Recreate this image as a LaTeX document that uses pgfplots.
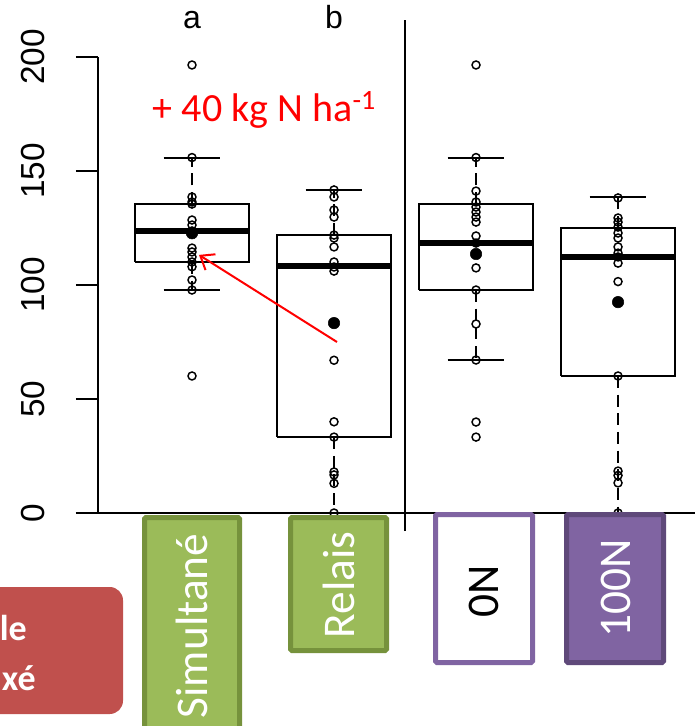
\documentclass[border=0pt]{standalone}
\usepackage{pgfplots}
\pgfplotsset{compat=1.18}
\usetikzlibrary{arrows.meta}
\usepackage{fontspec}
\setmainfont{Liberation Sans}
\newfontfamily\calibri{Carlito}
\definecolor{olgreen}{HTML}{9BBB59}
\definecolor{olgreendk}{HTML}{76923C}
\definecolor{olpurple}{HTML}{8064A2}
\definecolor{olpurpledk}{HTML}{5F497A}
\definecolor{olred}{HTML}{C0504D}
\begin{document}
\begin{tikzpicture}
\useasboundingbox (0,0) rectangle (521.25pt,-544.5pt);
\clip (0,0) rectangle (521.25pt,-544.5pt);
\begin{axis}[
  at={(73.5pt,-384.75pt)}, anchor=south west,
  scale only axis, width=447.75pt, height=342pt,
  xmin=0.338, xmax=4.542, ymin=0, ymax=200,
  clip=false,
  axis x line=none, axis y line*=left,
  y axis line style={line width=1.5pt, -},
  ytick={0,50,100,150,200}, xtick=\empty,
  major tick length=16.5pt, tick align=outside,
  tick style={line width=1.5pt, black},
  /pgf/number format/assume math mode=true,
  yticklabel={\rotatebox{90}{\pgfmathprintnumber{\tick}}},
  yticklabel style={inner sep=0pt, xshift=-23.25pt,
    font=\fontsize{25}{25}\selectfont},
  wk/.style={black, line width=1.5pt, dash pattern=on 9pt off 5pt},
  bx/.style={black, line width=1.5pt},
  md/.style={black, line width=5pt},
]
% zero line and separator
\addplot[bx] coordinates {(0.183,0) (4.8,0)};
\addplot[bx] coordinates {(2.5,-7.9) (2.5,216.2)};
% box 1: Simultane
\addplot[wk] coordinates {(1,135.5) (1,155.9)};
\addplot[wk] coordinates {(1,110.1) (1,97.8)};
\addplot[bx] coordinates {(0.8,155.9) (1.2,155.9)};
\addplot[bx] coordinates {(0.8,97.8) (1.2,97.8)};
\addplot[bx] coordinates {(0.6,110.1) (1.4,110.1) (1.4,135.5) (0.6,135.5) (0.6,110.1)};
\addplot[md] coordinates {(0.6,123.7) (1.4,123.7)};
% box 2: Relais
\addplot[wk] coordinates {(2,121.9) (2,141.7)};
\addplot[wk] coordinates {(2,33.3) (2,0)};
\addplot[bx] coordinates {(1.8,141.7) (2.2,141.7)};
\addplot[bx] coordinates {(1.6,33.3) (2.4,33.3) (2.4,121.9) (1.6,121.9) (1.6,33.3)};
\addplot[md] coordinates {(1.6,108.3) (2.4,108.3)};
% box 3: 0N
\addplot[wk] coordinates {(3,135.5) (3,155.9)};
\addplot[wk] coordinates {(3,97.8) (3,67.1)};
\addplot[bx] coordinates {(2.8,155.9) (3.2,155.9)};
\addplot[bx] coordinates {(2.8,67.1) (3.2,67.1)};
\addplot[bx] coordinates {(2.6,97.8) (3.4,97.8) (3.4,135.5) (2.6,135.5) (2.6,97.8)};
\addplot[md] coordinates {(2.6,118.4) (3.4,118.4)};
% box 4: 100N
\addplot[wk] coordinates {(4,125.0) (4,138.6)};
\addplot[wk] coordinates {(4,60.1) (4,0)};
\addplot[bx] coordinates {(3.8,138.6) (4.2,138.6)};
\addplot[bx] coordinates {(3.6,60.1) (4.4,60.1) (4.4,125.0) (3.6,125.0) (3.6,60.1)};
\addplot[md] coordinates {(3.6,112.3) (4.4,112.3)};
% individual points
\addplot[only marks, mark=o, mark size=3pt, mark options={line width=1.1pt, black, solid}] coordinates {
(1,196.5) (1,155.9) (1,138.6) (1,136.4) (1,135.5) (1,128.5) (1,126.3) (1,123.7) (1,116.2) (1,114.5) (1,112.3) (1,110.1) (1,108) (1,102.2) (1,97.8) (1,60.1)
(2,141.7) (2,138.6) (2,132.9) (2,129.8) (2,121.9) (2,120.6) (2,116.7) (2,110.1) (2,107.9) (2,106.1) (2,67) (2,40) (2,33.3) (2,18) (2,16.7) (2,13) (2,0)
(3,196.5) (3,155.9) (3,141.2) (3,136.4) (3,134.2) (3,132) (3,129.8) (3,127.6) (3,121.5) (3,118.4) (3,107.5) (3,97.8) (3,82.9) (3,67.1) (3,39.9) (3,33.3)
(4,138.2) (4,129.4) (4,127.6) (4,125.4) (4,122.8) (4,120.6) (4,116.7) (4,114) (4,112.3) (4,109.6) (4,101.5) (4,60.1) (4,18.4) (4,16.5) (4,13.2) (4,0)
};
% means
\addplot[only marks, mark=*, mark size=4.3pt, black] coordinates {(1,122.7) (2,83.3) (3,113.6) (4,92.5)};
% arrow
\addplot[red, line width=1.5pt, -{Straight Barb[length=9pt, width=14pt]}] coordinates {(2.021,75) (1.049,113.2)};
% letters
\node[font=\fontsize{24}{24}\selectfont, anchor=base] at (axis cs:1,212.3) {a};
\node[font=\fontsize{24}{24}\selectfont, anchor=base] at (axis cs:2,212.3) {b};
\node[red, font=\calibri\fontsize{30}{30}\selectfont, anchor=base] at (axis cs:1.51,171.5) {+ 40 kg N ha\textsuperscript{-1}};
\end{axis}
\begin{scope}[x=0.75pt, y=-0.75pt]
\draw[olgreendk, fill=olgreen, line width=3.75pt, rounded corners=1pt] (144.5,517.5) rectangle (239.5,760);
\draw[olgreendk, fill=olgreen, line width=3.75pt, rounded corners=1pt] (290.5,517.5) rectangle (386.5,650.5);
\draw[olpurple, fill=white, line width=3.75pt, rounded corners=1pt] (435.5,514.5) rectangle (532.5,662.5);
\draw[olpurpledk, fill=olpurple, line width=3.75pt, rounded corners=1pt] (566.5,514.5) rectangle (663.5,662.5);
\node[rotate=90, white, inner sep=0pt, font=\calibri\fontsize{34}{34}\selectfont] at (192,626) {Simultané};
\node[rotate=90, white, inner sep=0pt, font=\calibri\fontsize{34}{34}\selectfont] at (338.5,585) {Relais};
\node[rotate=90, black, inner sep=0pt, font=\calibri\fontsize{34}{34}\selectfont] at (484,591) {0N};
\node[rotate=90, white, inner sep=0pt, font=\calibri\fontsize{34}{34}\selectfont] at (615.5,588) {100N};
\fill[olred, rounded corners=10pt] (-30,587) rectangle (123,714);
\node[white, inner sep=0pt, anchor=base east, font=\calibri\bfseries\fontsize{27}{27}\selectfont] at (27,640) {le};
\node[white, inner sep=0pt, anchor=base east, font=\calibri\bfseries\fontsize{27}{27}\selectfont] at (36,690) {xé};
\end{scope}
\end{tikzpicture}
\end{document}
